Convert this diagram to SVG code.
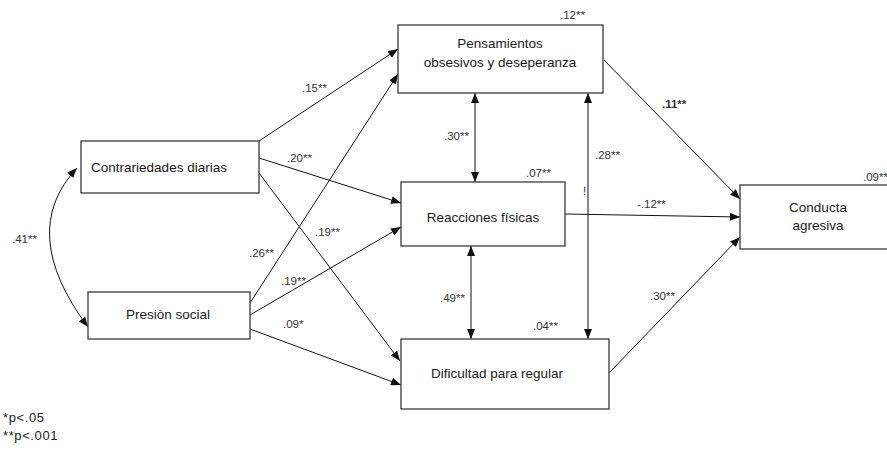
<svg xmlns="http://www.w3.org/2000/svg" width="887" height="454" viewBox="0 0 887 454">
<style>
.box{fill:#fff;stroke:#3a3a3a;stroke-width:1.3}
.nt{font-family:"Liberation Sans",Arial,sans-serif;font-size:13.5px;fill:#1a1a1a;text-anchor:middle}
.lb{font-family:"Liberation Sans",Arial,sans-serif;font-size:11.5px;fill:#333}
.fn{font-family:"Liberation Sans",Arial,sans-serif;font-size:13px;letter-spacing:0.6px;fill:#222}
.ln{fill:none;stroke:#111;stroke-width:1}
</style>
<defs>
<marker id="ah" viewBox="0 0 10 8" refX="10" refY="4" markerWidth="10" markerHeight="8" markerUnits="userSpaceOnUse" orient="auto-start-reverse">
<path d="M0,0 L10,4 L0,8 z" fill="#111"/>
</marker>
</defs>
<g id="connectors">
<path class="ln" d="M77,168 Q17,232 88,327" marker-start="url(#ah)" marker-end="url(#ah)"/>
<line class="ln" x1="259" y1="141" x2="398" y2="49" marker-end="url(#ah)"/>
<line class="ln" x1="250" y1="303" x2="398" y2="74" marker-end="url(#ah)"/>
<line class="ln" x1="259" y1="158" x2="401" y2="203" marker-end="url(#ah)"/>
<line class="ln" x1="250" y1="315" x2="401" y2="227" marker-end="url(#ah)"/>
<line class="ln" x1="259" y1="173" x2="400" y2="361" marker-end="url(#ah)"/>
<line class="ln" x1="250" y1="329" x2="401" y2="385" marker-end="url(#ah)"/>
<line class="ln" x1="475" y1="93" x2="475" y2="182" marker-start="url(#ah)" marker-end="url(#ah)"/>
<line class="ln" x1="471" y1="246" x2="471" y2="339" marker-start="url(#ah)" marker-end="url(#ah)"/>
<line class="ln" x1="588" y1="93" x2="588" y2="339" marker-start="url(#ah)" marker-end="url(#ah)"/>
<line class="ln" x1="604" y1="60" x2="740" y2="199" marker-end="url(#ah)"/>
<line class="ln" x1="565" y1="214" x2="740" y2="217" marker-end="url(#ah)"/>
<line class="ln" x1="609" y1="373" x2="740" y2="237" marker-end="url(#ah)"/>
</g>
<g id="node-pensamientos">
<rect class="box" x="398" y="25" width="205" height="68"/>
<text class="nt" x="500" y="48">Pensamientos</text>
<text class="nt" x="500" y="67">obsesivos y deseperanza</text>
</g>
<g id="node-contrariedades">
<rect class="box" x="81" y="141" width="178" height="52"/>
<text class="nt" x="159" y="172">Contrariedades diarias</text>
</g>
<g id="node-presion">
<rect class="box" x="88" y="292" width="162" height="47"/>
<text class="nt" x="168" y="319">Presiòn social</text>
</g>
<g id="node-reacciones">
<rect class="box" x="401" y="182" width="164" height="64"/>
<text class="nt" x="483" y="222">Reacciones físicas</text>
</g>
<g id="node-dificultad">
<rect class="box" x="401" y="339" width="208" height="70"/>
<text class="nt" x="497" y="378">Dificultad para regular</text>
</g>
<g id="node-conducta">
<rect class="box" x="740" y="185" width="160" height="64"/>
<text class="nt" x="818" y="212">Conducta</text>
<text class="nt" x="818" y="230">agresiva</text>
</g>
<g id="labels">
<text class="lb" x="560" y="19">.12**</text>
<text class="lb" x="302" y="92">.15**</text>
<text class="lb" x="287" y="162">.20**</text>
<text class="lb" x="444" y="140">.30**</text>
<text class="lb" x="526" y="177">.07**</text>
<text class="lb" x="595" y="159">.28**</text>
<text class="lb" x="583" y="195">!</text>
<text class="lb" x="662" y="108" font-weight="bold">.11**</text>
<text class="lb" x="637" y="208">-.12**</text>
<text class="lb" x="863" y="181">.09**</text>
<text class="lb" x="12" y="243">.41**</text>
<text class="lb" x="249" y="257">.26**</text>
<text class="lb" x="315" y="236">.19**</text>
<text class="lb" x="281" y="285">.19**</text>
<text class="lb" x="283" y="328">.09*</text>
<text class="lb" x="440" y="302">.49**</text>
<text class="lb" x="533" y="330">.04**</text>
<text class="lb" x="650" y="300">.30**</text>
<text class="fn" x="3" y="422">*p&lt;.05</text>
<text class="fn" x="3" y="440">**p&lt;.001</text>
</g>
</svg>
